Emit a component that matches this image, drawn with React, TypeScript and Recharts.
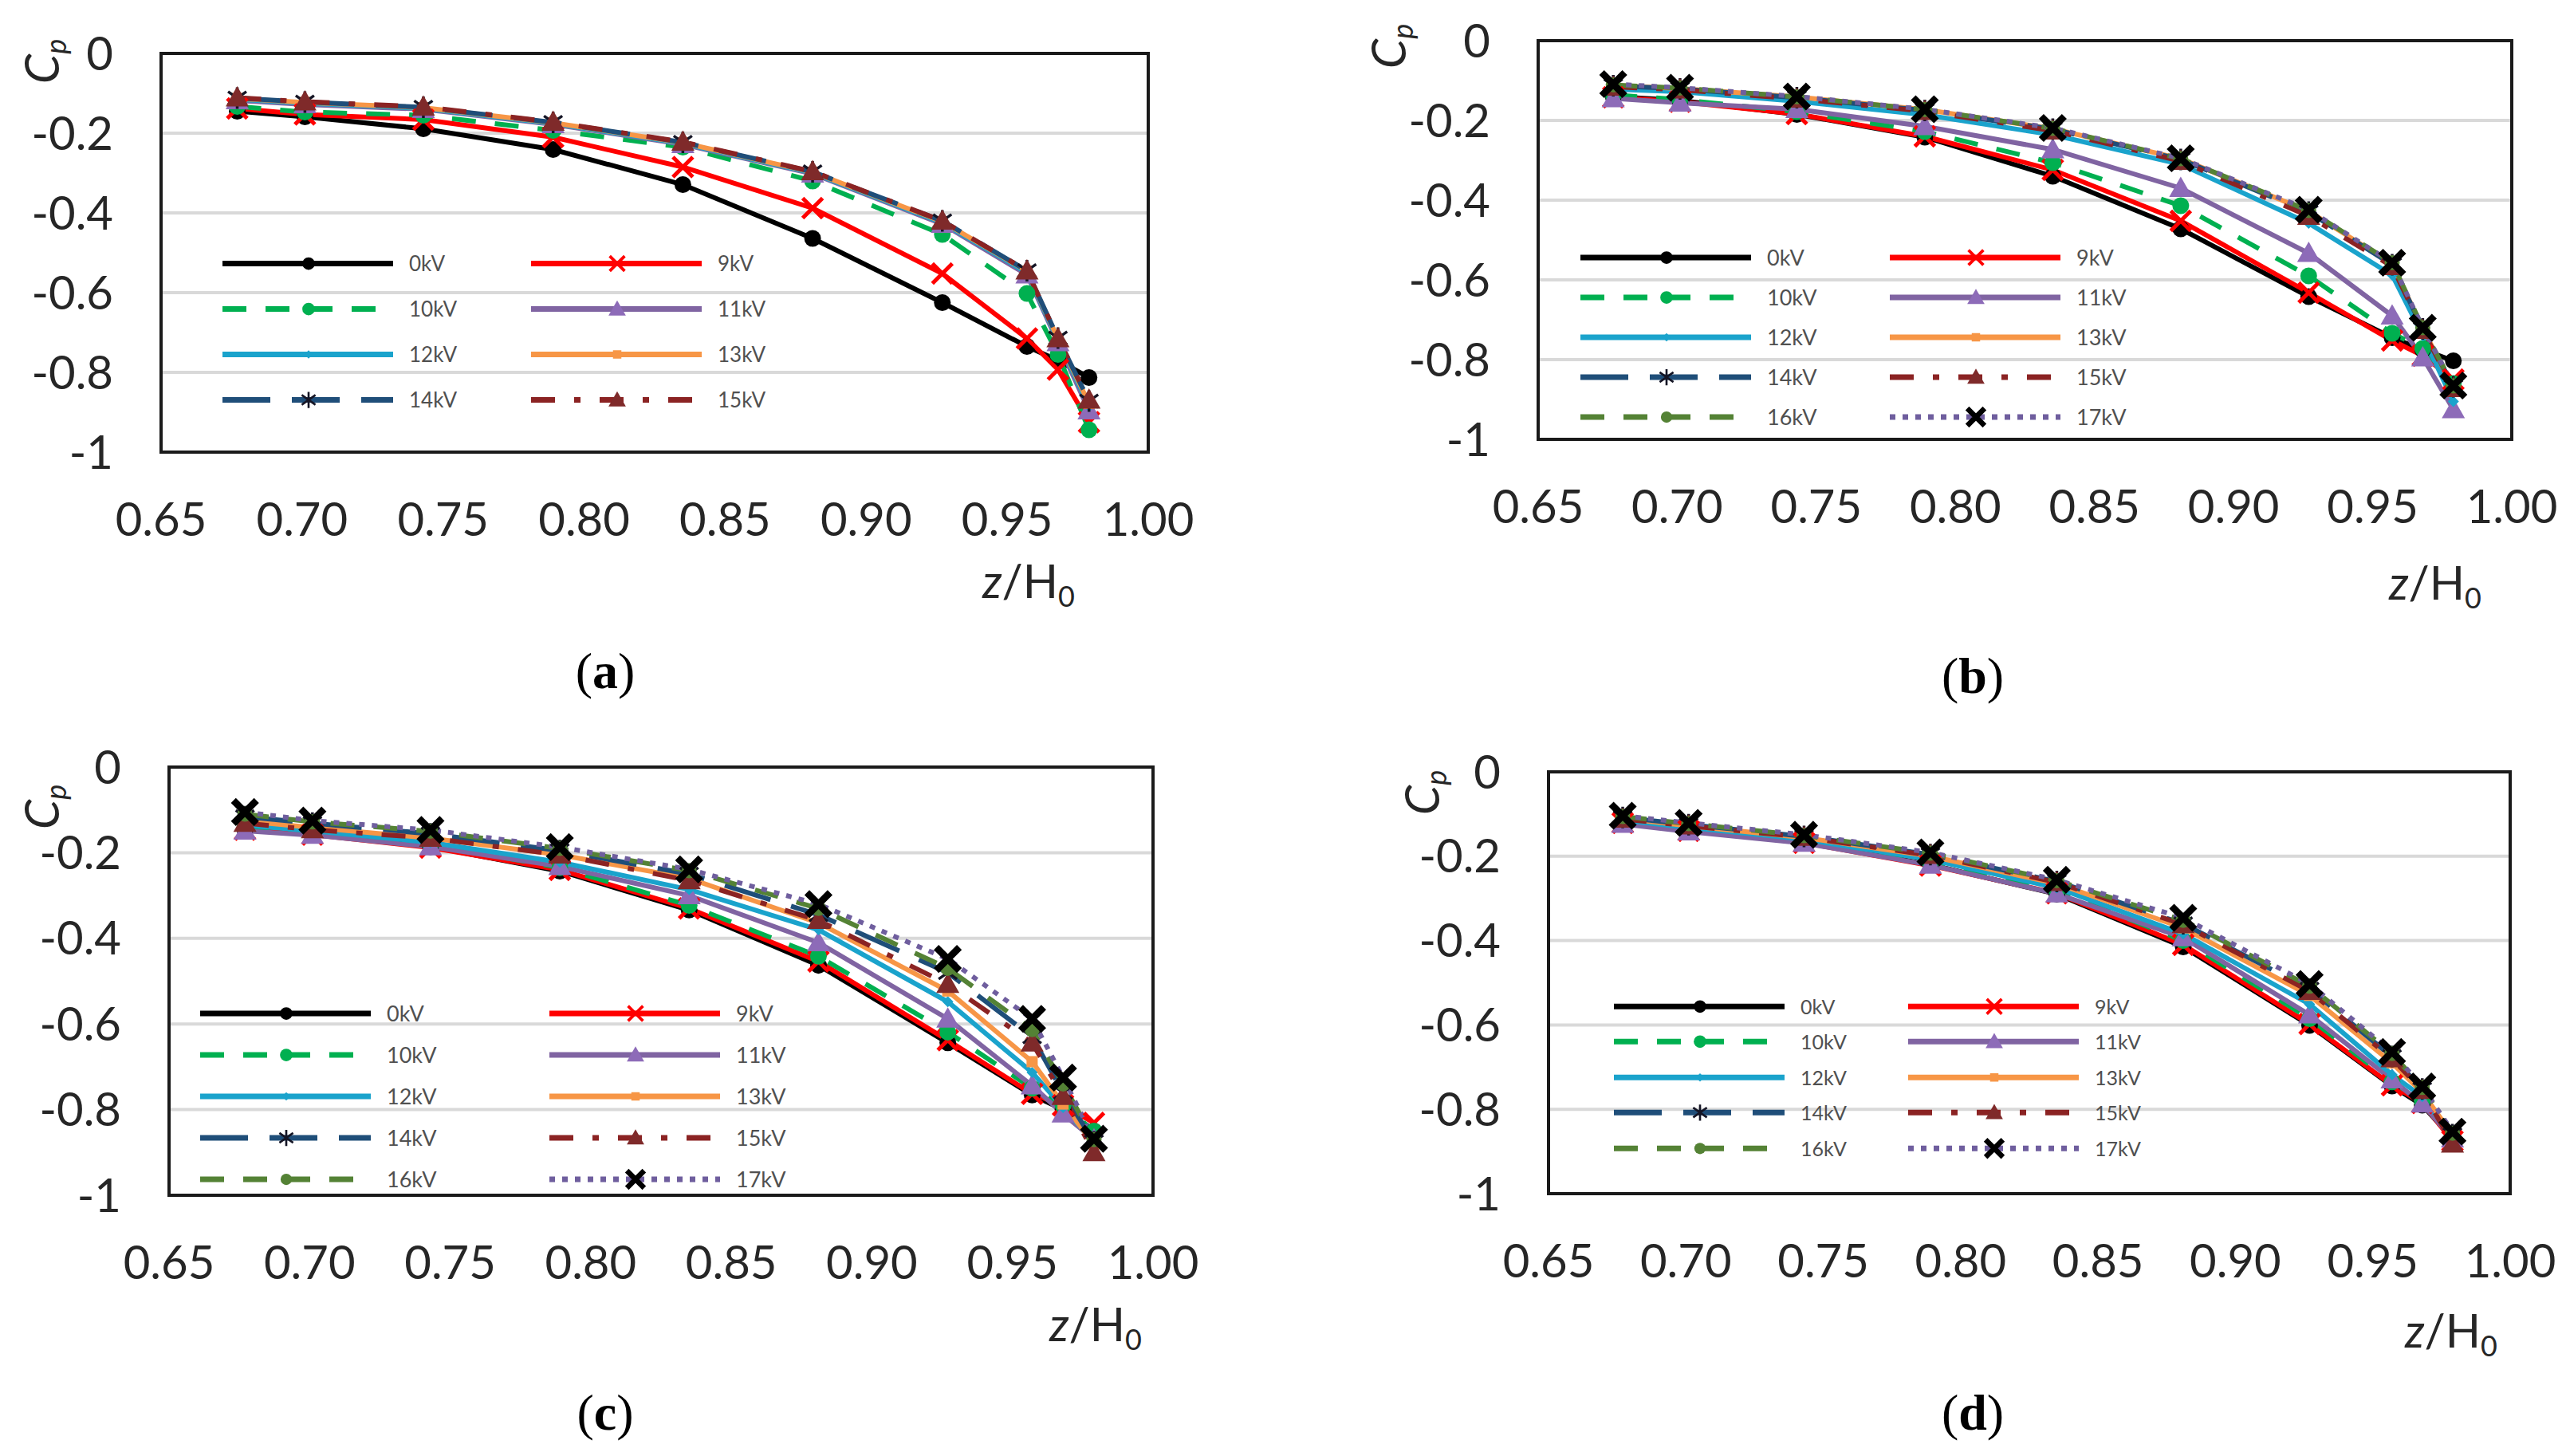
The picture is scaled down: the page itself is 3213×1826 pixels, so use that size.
import React from 'react';
import { LineChart, Line, XAxis, YAxis, CartesianGrid, ReferenceArea, Legend } from 'recharts';

// ---------- data ----------
const Z = [0.677, 0.701, 0.743, 0.789, 0.835, 0.881, 0.927, 0.957, 0.968, 0.979];
const NAMES = ['0kV', '9kV', '10kV', '11kV', '12kV', '13kV', '14kV', '15kV', '16kV', '17kV'];
const X_TICKS = [0.65, 0.7, 0.75, 0.8, 0.85, 0.9, 0.95, 1.0];
const Y_TICKS = [-1, -0.8, -0.6, -0.4, -0.2, 0];

// panel (a)
const A_0kV = [-0.145, -0.159, -0.189, -0.241, -0.329, -0.464, -0.625, -0.735, -0.77, -0.813];
const A_9kV = [-0.138, -0.153, -0.166, -0.21, -0.285, -0.388, -0.552, -0.715, -0.793, -0.925];
const A_10kV = [-0.133, -0.147, -0.155, -0.193, -0.235, -0.32, -0.454, -0.602, -0.755, -0.944];
const A_11kV = [-0.118, -0.128, -0.14, -0.178, -0.228, -0.302, -0.428, -0.555, -0.725, -0.896];
const A_12kV = [-0.115, -0.125, -0.138, -0.176, -0.226, -0.3, -0.425, -0.55, -0.72, -0.885];
const A_13kV = [-0.113, -0.123, -0.136, -0.174, -0.224, -0.298, -0.422, -0.546, -0.716, -0.878];
const A_14kV = [-0.112, -0.122, -0.135, -0.173, -0.223, -0.297, -0.42, -0.545, -0.714, -0.872];
const A_15kV = [-0.111, -0.121, -0.134, -0.172, -0.222, -0.296, -0.42, -0.545, -0.715, -0.869];

// panel (b)
const B_0kV = [-0.14, -0.15, -0.185, -0.242, -0.34, -0.472, -0.642, -0.745, -0.775, -0.803];
const B_9kV = [-0.142, -0.153, -0.184, -0.24, -0.324, -0.452, -0.632, -0.752, -0.79, -0.85];
const B_10kV = [-0.136, -0.148, -0.178, -0.228, -0.306, -0.414, -0.59, -0.734, -0.772, -0.86];
const B_11kV = [-0.145, -0.156, -0.172, -0.215, -0.273, -0.37, -0.533, -0.69, -0.795, -0.925];
const B_12kV = [-0.122, -0.128, -0.152, -0.186, -0.236, -0.31, -0.458, -0.588, -0.74, -0.905];
const B_13kV = [-0.112, -0.12, -0.141, -0.173, -0.221, -0.296, -0.428, -0.56, -0.722, -0.87];
const B_14kV = [-0.113, -0.121, -0.143, -0.175, -0.222, -0.298, -0.43, -0.562, -0.723, -0.868];
const B_15kV = [-0.116, -0.123, -0.146, -0.177, -0.226, -0.302, -0.44, -0.566, -0.726, -0.872];
const B_16kV = [-0.111, -0.119, -0.141, -0.173, -0.22, -0.296, -0.426, -0.557, -0.72, -0.866];
const B_17kV = [-0.109, -0.118, -0.14, -0.172, -0.219, -0.295, -0.424, -0.557, -0.72, -0.865];

// panel (c)
const C_0kV = [-0.146, -0.156, -0.186, -0.243, -0.334, -0.463, -0.644, -0.766, -0.8, -0.85];
const C_9kV = [-0.146, -0.158, -0.188, -0.24, -0.33, -0.454, -0.638, -0.763, -0.79, -0.831];
const C_10kV = [-0.141, -0.153, -0.181, -0.235, -0.323, -0.442, -0.619, -0.75, -0.79, -0.85];
const C_11kV = [-0.149, -0.159, -0.186, -0.232, -0.3, -0.41, -0.588, -0.744, -0.81, -0.87];
const C_12kV = [-0.136, -0.149, -0.176, -0.222, -0.286, -0.38, -0.548, -0.713, -0.795, -0.875];
const C_13kV = [-0.126, -0.141, -0.166, -0.205, -0.26, -0.364, -0.523, -0.688, -0.787, -0.88];
const C_14kV = [-0.116, -0.131, -0.156, -0.195, -0.25, -0.345, -0.48, -0.63, -0.76, -0.875];
const C_15kV = [-0.131, -0.146, -0.166, -0.205, -0.265, -0.358, -0.507, -0.644, -0.769, -0.9];
const C_16kV = [-0.11, -0.128, -0.15, -0.19, -0.242, -0.33, -0.47, -0.613, -0.74, -0.87];
const C_17kV = [-0.105, -0.125, -0.147, -0.187, -0.239, -0.32, -0.448, -0.588, -0.725, -0.868];

// panel (d)
const D_0kV = [-0.12, -0.138, -0.166, -0.22, -0.29, -0.415, -0.601, -0.745, -0.79, -0.87];
const D_9kV = [-0.121, -0.14, -0.168, -0.222, -0.288, -0.41, -0.598, -0.743, -0.785, -0.875];
const D_10kV = [-0.118, -0.136, -0.164, -0.215, -0.282, -0.4, -0.585, -0.735, -0.78, -0.87];
const D_11kV = [-0.124, -0.142, -0.169, -0.221, -0.289, -0.393, -0.576, -0.73, -0.787, -0.87];
const D_12kV = [-0.115, -0.132, -0.16, -0.208, -0.275, -0.384, -0.551, -0.718, -0.77, -0.865];
const D_13kV = [-0.11, -0.128, -0.156, -0.2, -0.265, -0.37, -0.53, -0.69, -0.76, -0.86];
const D_14kV = [-0.108, -0.125, -0.153, -0.196, -0.26, -0.36, -0.515, -0.675, -0.752, -0.86];
const D_15kV = [-0.112, -0.128, -0.155, -0.198, -0.262, -0.362, -0.52, -0.68, -0.755, -0.882];
const D_16kV = [-0.106, -0.123, -0.151, -0.193, -0.258, -0.352, -0.508, -0.668, -0.748, -0.857];
const D_17kV = [-0.104, -0.121, -0.149, -0.191, -0.256, -0.346, -0.503, -0.664, -0.746, -0.853];

// ---------- styles ----------
type Shape = 'circle' | 'x' | 'triangle' | 'diamond' | 'square' | 'star' | 'bigx';
interface SeriesStyle { color: string; dash?: string; shape: Shape; mColor: string; size: number; }
const STYLE: Record<string, SeriesStyle> = {
  '0kV': { color: '#000000', shape: 'circle', mColor: '#000000', size: 21 },
  '9kV': { color: '#FF0000', shape: 'x', mColor: '#FF0000', size: 25 },
  '10kV': { color: '#00B050', dash: '30 24', shape: 'circle', mColor: '#00B050', size: 21 },
  '11kV': { color: '#8064A2', shape: 'triangle', mColor: '#8D6BB8', size: 29 },
  '12kV': { color: '#1AA3CC', shape: 'diamond', mColor: '#1AA3CC', size: 14 },
  '13kV': { color: '#F79646', shape: 'square', mColor: '#F79646', size: 14 },
  '14kV': { color: '#1F4E79', dash: '60 27', shape: 'star', mColor: '#151525', size: 27 },
  '15kV': { color: '#8B2323', dash: '30 24 8 24', shape: 'triangle', mColor: '#7F2A2A', size: 29 },
  '16kV': { color: '#548235', dash: '30 24', shape: 'circle', mColor: '#548235', size: 19 },
  '17kV': { color: '#6F5E9E', dash: '7 9', shape: 'bigx', mColor: '#000000', size: 29 },
};

const FONT = 'Lato, "Open Sans", sans-serif';

function Marker({ shape, cx, cy, color, s }: { shape: Shape; cx: number; cy: number; color: string; s: number }) {
  const h = s / 2;
  switch (shape) {
    case 'circle':
      return <circle cx={cx} cy={cy} r={h} fill={color} />;
    case 'x':
      return (
        <path d={`M${cx - h},${cy - h}L${cx + h},${cy + h}M${cx - h},${cy + h}L${cx + h},${cy - h}`}
          stroke={color} strokeWidth={Math.max(2, s * 0.2)} fill="none" />
      );
    case 'bigx':
      return (
        <path d={`M${cx - h},${cy - h}L${cx + h},${cy + h}M${cx - h},${cy + h}L${cx + h},${cy - h}`}
          stroke={color} strokeWidth={Math.max(3, s * 0.3)} fill="none" />
      );
    case 'triangle':
      return <path d={`M${cx},${cy - h}L${cx + h},${cy + h * 0.75}L${cx - h},${cy + h * 0.75}Z`} fill={color} />;
    case 'diamond':
      return <path d={`M${cx},${cy - h}L${cx + h},${cy}L${cx},${cy + h}L${cx - h},${cy}Z`} fill={color} />;
    case 'square':
      return <rect x={cx - h} y={cy - h} width={s} height={s} fill={color} />;
    case 'star':
      return (
        <path d={`M${cx},${cy - h}L${cx},${cy + h}M${cx - h * 0.85},${cy - h * 0.6}L${cx + h * 0.85},${cy + h * 0.6}M${cx - h * 0.85},${cy + h * 0.6}L${cx + h * 0.85},${cy - h * 0.6}`}
          stroke={color} strokeWidth={Math.max(2, s * 0.13)} fill="none" />
      );
    default:
      return null;
  }
}

interface PanelCfg {
  id: string;
  names: string[];
  series: number[][];
  box: { L: number; T: number; R: number; B: number };
  legend: { x: number; y: number; rowGap: number; colGap: number; font: number };
  cp: { x: number; y: number };
  zh: { x: number; y: number };
  cap: { x: number; y: number };
}

const PANELS: PanelCfg[] = [
  {
    id: 'a', names: NAMES.slice(0, 8),
    series: [A_0kV, A_9kV, A_10kV, A_11kV, A_12kV, A_13kV, A_14kV, A_15kV],
    box: { L: 202, T: 67, R: 1440, B: 567 },
    legend: { x: 277, y: 330, rowGap: 57, colGap: 387, font: 26 },
    cp: { x: 51, y: 77 }, zh: { x: 1290, y: 728 }, cap: { x: 759, y: 842 },
  },
  {
    id: 'b', names: NAMES,
    series: [B_0kV, B_9kV, B_10kV, B_11kV, B_12kV, B_13kV, B_14kV, B_15kV, B_16kV, B_17kV],
    box: { L: 1929, T: 51, R: 3150, B: 551 },
    legend: { x: 1980, y: 323, rowGap: 50, colGap: 388, font: 27 },
    cp: { x: 1740, y: 58 }, zh: { x: 3054, y: 730 }, cap: { x: 2474, y: 848 },
  },
  {
    id: 'c', names: NAMES,
    series: [C_0kV, C_9kV, C_10kV, C_11kV, C_12kV, C_13kV, C_14kV, C_15kV, C_16kV, C_17kV],
    box: { L: 212, T: 962, R: 1446, B: 1499 },
    legend: { x: 249, y: 1271, rowGap: 52, colGap: 438, font: 27 },
    cp: { x: 51, y: 1012 }, zh: { x: 1374, y: 1660 }, cap: { x: 759, y: 1772 },
  },
  {
    id: 'd', names: NAMES,
    series: [D_0kV, D_9kV, D_10kV, D_11kV, D_12kV, D_13kV, D_14kV, D_15kV, D_16kV, D_17kV],
    box: { L: 1942, T: 968, R: 3148, B: 1497 },
    legend: { x: 2022, y: 1262, rowGap: 44.5, colGap: 369, font: 25 },
    cp: { x: 1782, y: 994 }, zh: { x: 3074, y: 1668 }, cap: { x: 2474, y: 1772 },
  },
];

const YW = 200;
const MT = 50;
const MR = 80;
const XH = 140;
const LINE_LEN = 216;
const LABEL_OFF = 236;

function fmtY(v: number) {
  if (Math.abs(v) < 1e-9) return '0';
  if (Number.isInteger(v)) return String(v);
  return v.toFixed(1);
}

function LegendBox({ payload, cfg }: { payload?: any[]; cfg: PanelCfg }) {
  const items = (payload || []).slice().sort((p, q) => NAMES.indexOf(p.value) - NAMES.indexOf(q.value));
  const { rowGap, colGap, font } = cfg.legend;
  return (
    <div style={{ position: 'relative', width: colGap + 360, height: rowGap * 5 }}>
      {items.map((it, i) => {
        const st = STYLE[it.value];
        const row = Math.floor(i / 2);
        const col = i % 2;
        return (
          <div key={it.value} style={{ position: 'absolute', left: col * colGap, top: row * rowGap, height: rowGap, width: 360 }}>
            <svg width={LINE_LEN + 4} height={rowGap} style={{ position: 'absolute', left: 0, top: 0 }}>
              <line x1={2} y1={rowGap / 2} x2={LINE_LEN} y2={rowGap / 2} stroke={st.color} strokeWidth={7}
                strokeDasharray={st.dash} />
              <Marker shape={st.shape} cx={LINE_LEN / 2 + 2} cy={rowGap / 2} color={st.mColor} s={st.size * 0.75} />
            </svg>
            <span style={{
              position: 'absolute', left: LABEL_OFF, top: 0, lineHeight: `${rowGap}px`, fontSize: font,
              fontFamily: FONT, color: '#505050', whiteSpace: 'nowrap',
            }}>{it.value}</span>
          </div>
        );
      })}
    </div>
  );
}

function Panel({ cfg }: { cfg: PanelCfg }) {
  const { box } = cfg;
  const left = box.L - YW;
  const top = box.T - MT;
  const width = YW + (box.R - box.L) + MR;
  const height = MT + (box.B - box.T) + XH;
  const rows = Z.map((z, i) => {
    const r: Record<string, number> = { z };
    cfg.names.forEach((n, k) => { r[n] = cfg.series[k][i]; });
    return r;
  });
  const tickStyle = { fontSize: 58, fill: '#262626', fontFamily: FONT };
  return (
    <div style={{ position: 'absolute', left, top }}>
      <LineChart width={width} height={height} data={rows} margin={{ top: MT, right: MR, bottom: 0, left: 0 }}>
        <CartesianGrid vertical={false} stroke="#d9d9d9" strokeWidth={4} />
        <XAxis dataKey="z" type="number" domain={[0.65, 1]} ticks={X_TICKS} interval={0}
          tickFormatter={(v: number) => v.toFixed(2)} axisLine={false} tickLine={false} tickSize={0}
          tickMargin={64} height={XH} tick={tickStyle} allowDataOverflow />
        <YAxis type="number" domain={[-1, 0]} ticks={Y_TICKS} interval={0} tickFormatter={fmtY}
          axisLine={false} tickLine={false} tickSize={0} tickMargin={60} width={YW} tick={tickStyle} allowDataOverflow />
        <ReferenceArea x1={0.65} x2={1} y1={-1} y2={0} fill="none" fillOpacity={0} stroke="#1a1a1a" strokeWidth={4}
          ifOverflow="visible" />
        {cfg.names.map((n) => {
          const st = STYLE[n];
          return (
            <Line key={n} dataKey={n} name={n} type="linear" stroke={st.color} strokeWidth={6}
              strokeDasharray={st.dash} isAnimationActive={false} activeDot={false}
              dot={(p: any) => (p.cx == null || p.cy == null)
                ? <g key={`d-${n}-${p.index}`} />
                : <Marker key={`d-${n}-${p.index}`} shape={st.shape} cx={p.cx} cy={p.cy} color={st.mColor} s={st.size} />}
            />
          );
        })}
        <Legend layout="vertical" align="center" verticalAlign="middle"
          wrapperStyle={{ left: cfg.legend.x - left, top: cfg.legend.y - cfg.legend.rowGap / 2 - top, width: cfg.legend.colGap + 360, bottom: 'auto', right: 'auto' }}
          content={(props: any) => <LegendBox payload={props.payload} cfg={cfg} />} />
      </LineChart>
    </div>
  );
}

function TextAt({ x, y, children, style }: { x: number; y: number; children: React.ReactNode; style?: React.CSSProperties }) {
  return (
    <div style={{ position: 'absolute', left: x, top: y, transform: 'translate(-50%, -50%)', whiteSpace: 'nowrap', lineHeight: 1, ...style }}>
      {children}
    </div>
  );
}

export default function App() {
  return (
    <div style={{ position: 'absolute', left: 0, top: 0, width: 3213, height: 1826, background: '#ffffff', overflow: 'hidden' }}>
      {PANELS.map((cfg) => (
        <React.Fragment key={cfg.id}>
          <Panel cfg={cfg} />
          <TextAt x={cfg.cp.x} y={cfg.cp.y} style={{ transform: 'translate(-50%, -50%) rotate(-90deg)', fontFamily: FONT, fontSize: 60, color: '#262626' }}>
            <span style={{ fontStyle: 'italic' }}>C</span>
            <span style={{ fontStyle: 'italic', fontSize: '0.6em', position: 'relative', top: '0.25em' }}>p</span>
          </TextAt>
          <TextAt x={cfg.zh.x} y={cfg.zh.y} style={{ fontFamily: FONT, fontSize: 58, color: '#262626' }}>
            <span style={{ fontStyle: 'italic' }}>z</span>/H
            <span style={{ fontSize: '0.62em', position: 'relative', top: '0.3em' }}>0</span>
          </TextAt>
          <TextAt x={cfg.cap.x} y={cfg.cap.y} style={{ fontFamily: '"Liberation Serif", "DejaVu Serif", serif', fontSize: 64, color: '#000' }}>
            (<b>{cfg.id}</b>)
          </TextAt>
        </React.Fragment>
      ))}
    </div>
  );
}
